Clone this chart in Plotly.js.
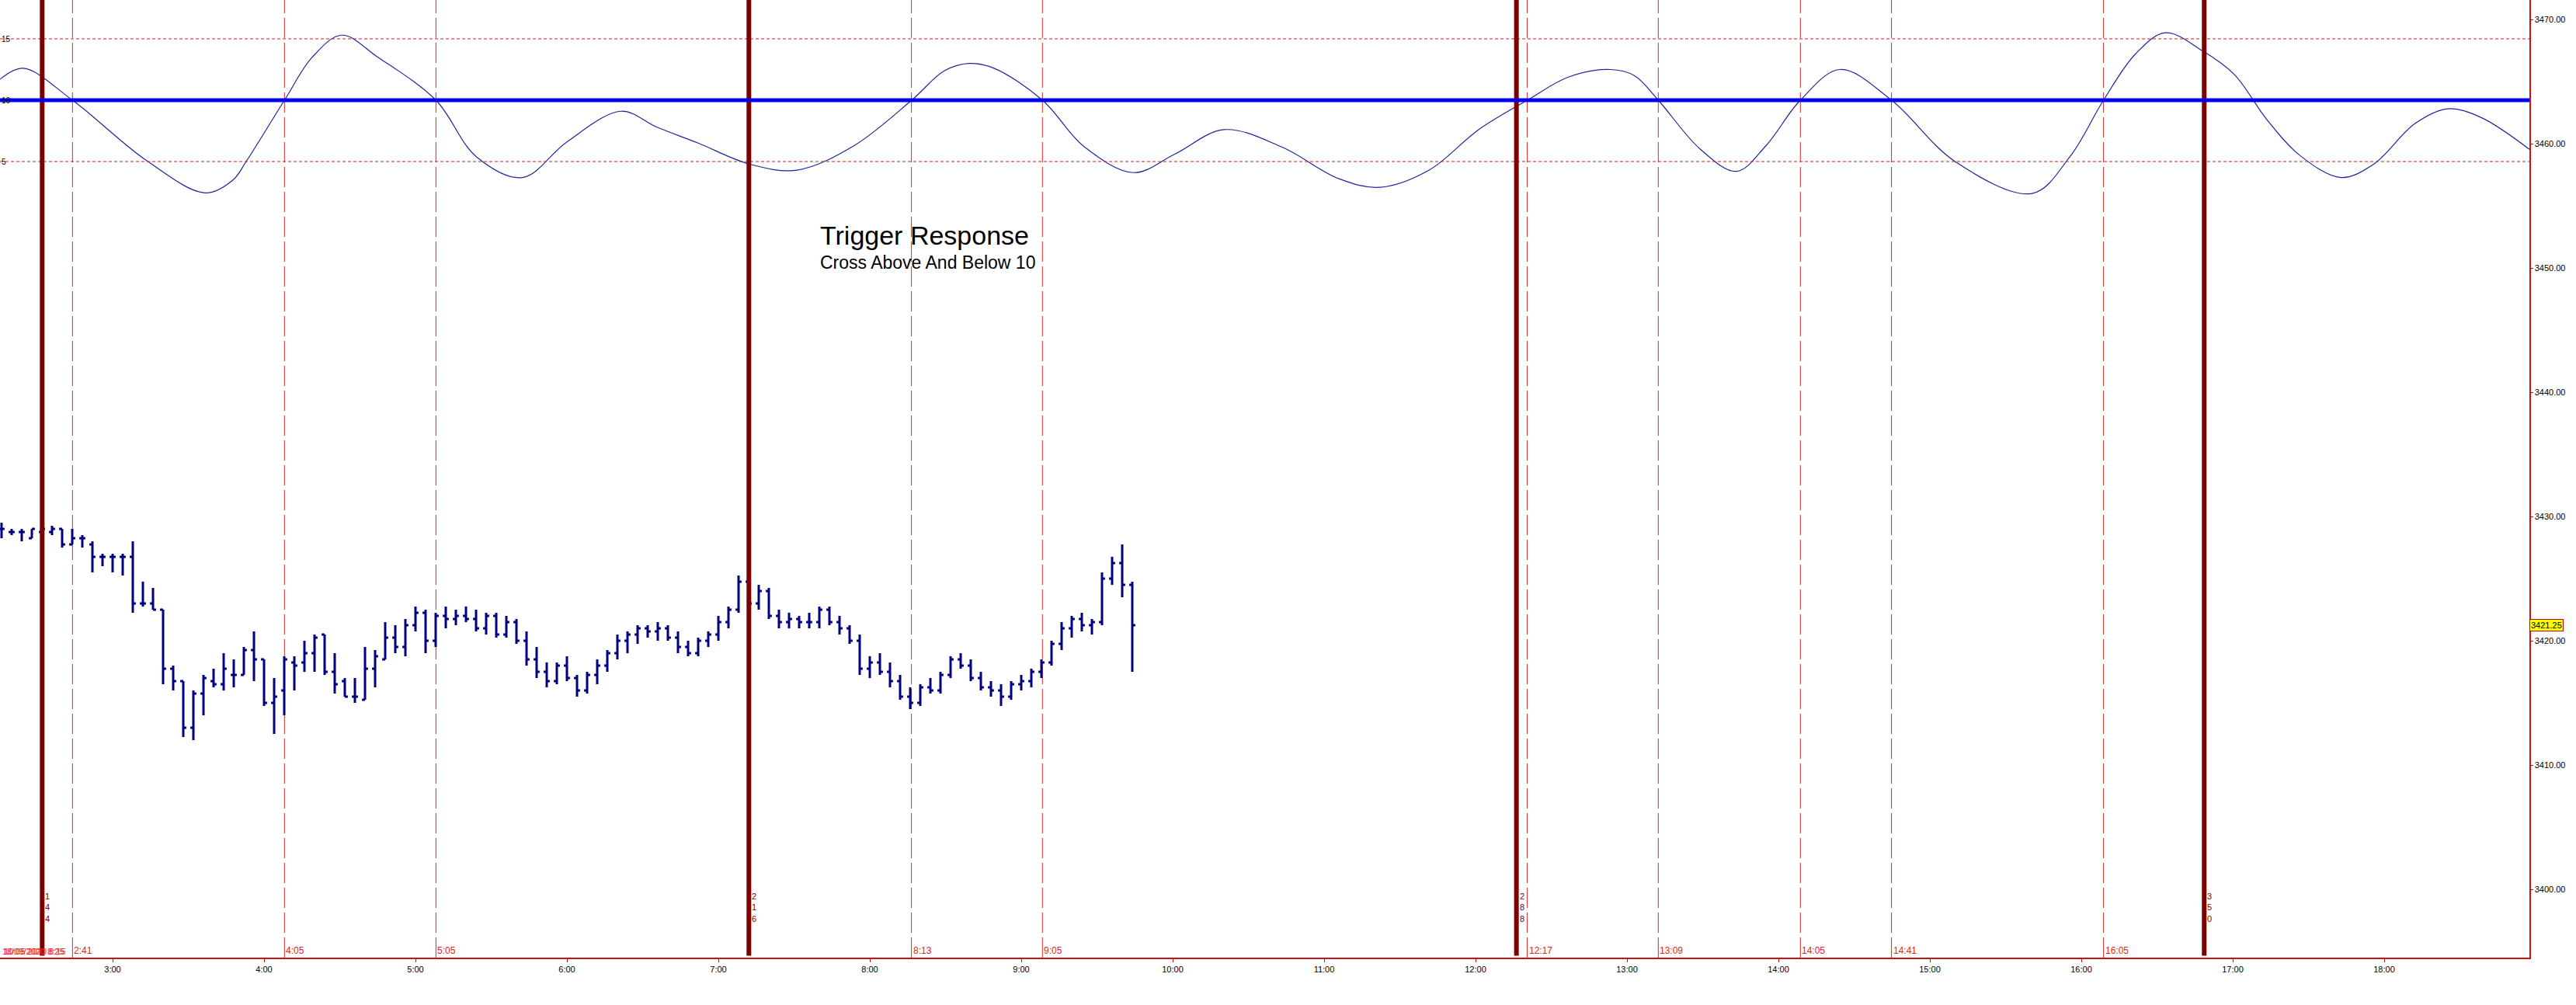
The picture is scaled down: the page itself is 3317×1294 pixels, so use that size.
<!DOCTYPE html>
<html>
<head>
<meta charset="utf-8">
<script src="https://cdn.plot.ly/plotly-3.0.1.min.js"></script>
<style>html,body{margin:0;padding:0;background:#fff;}#chart{width:3317px;height:1294px;}</style>
</head>
<body>
<div id="chart"></div>
<script>
// ---- data (times are minutes after midnight) ----
const barStart = 136;   // first bar 2:16
const barStep = 4;      // 4-minute bars
const barOpen = [3429.0,3428.75,3428.75,3428.25,3428.75,3428.75,3429.0,3427.75,3428.25,3427.75,
3426.75,3426.75,3426.75,3426.75,3423.0,3423.0,3422.5,3417.75,3416.75,3413.0,
3415.75,3416.75,3416.5,3417.25,3417.25,3419.25,3418.5,3415.0,3416.0,3418.25,
3418.25,3419.0,3420.5,3417.5,3416.75,3415.5,3415.25,3417.75,3418.5,3420.25,
3419.5,3421.25,3422.25,3420.0,3422.0,3421.75,3422.0,3421.75,3421.0,3422.0,
3420.5,3421.5,3420.0,3418.5,3417.5,3416.75,3418.0,3417.0,3416.0,3417.25,
3418.0,3419.0,3420.0,3420.5,3421.0,3420.75,3421.0,3420.25,3419.5,3419.0,
3420.0,3420.5,3421.5,3422.5,3424.75,3423.0,3424.0,3422.0,3421.5,3421.75,
3421.5,3421.5,3422.5,3421.5,3421.0,3420.0,3417.75,3418.25,3417.5,3416.75,
3415.5,3415.0,3416.25,3416.0,3417.25,3418.5,3418.0,3417.0,3416.25,3416.0,
3415.5,3416.5,3416.75,3417.5,3418.25,3419.75,3421.0,3421.75,3421.25,3421.5,
3425.0,3426.25,3424.5];
const barHigh = [3429.5,3429.0,3429.0,3429.0,3429.0,3429.25,3429.0,3429.0,3428.5,3428.0,
3427.0,3427.0,3427.0,3428.0,3424.75,3424.25,3422.5,3418.0,3416.75,3416.0,
3417.25,3417.75,3419.0,3418.5,3419.5,3420.75,3418.5,3417.0,3418.75,3418.75,
3420.0,3420.5,3420.5,3419.0,3417.0,3417.0,3419.5,3419.25,3421.5,3421.25,
3421.75,3422.75,3422.5,3422.25,3422.75,3422.5,3422.75,3422.5,3422.25,3422.25,
3422.0,3421.75,3420.75,3419.5,3418.25,3418.25,3418.75,3417.25,3417.5,3418.5,
3419.25,3420.5,3420.75,3421.25,3421.25,3421.5,3421.25,3420.75,3420.0,3420.25,
3420.75,3422.0,3422.75,3425.25,3425.0,3424.5,3424.25,3422.5,3422.25,3422.0,
3422.25,3422.75,3422.75,3422.0,3421.25,3420.5,3418.75,3419.0,3418.25,3417.25,
3416.25,3416.5,3417.0,3417.5,3418.75,3419.0,3418.5,3417.5,3416.75,3416.5,
3416.75,3417.25,3417.75,3418.5,3420.0,3421.5,3422.0,3422.25,3421.75,3425.5,
3426.75,3427.75,3424.75];
const barLow = [3428.25,3428.5,3428.0,3428.25,3428.0,3428.5,3427.5,3427.75,3427.5,3425.5,
3426.0,3425.5,3425.25,3422.25,3422.75,3422.5,3416.5,3416.0,3412.25,3412.0,
3414.0,3416.25,3416.0,3416.25,3417.25,3416.75,3414.75,3412.5,3414.0,3416.0,
3417.5,3417.5,3417.25,3415.75,3415.5,3415.0,3415.25,3416.25,3418.5,3419.0,
3418.75,3420.75,3419.0,3419.5,3421.0,3421.25,3421.5,3420.75,3420.5,3420.25,
3420.25,3419.75,3418.0,3417.0,3416.25,3416.5,3416.75,3415.5,3415.75,3416.5,
3417.5,3418.5,3419.0,3419.75,3420.25,3420.0,3420.0,3419.0,3418.75,3418.75,
3419.5,3420.0,3421.0,3422.25,3421.75,3422.5,3421.75,3421.0,3421.0,3421.0,
3421.0,3421.0,3421.25,3420.5,3419.75,3417.25,3417.0,3417.25,3416.25,3415.25,
3414.5,3414.75,3415.75,3415.75,3417.0,3417.75,3416.75,3416.0,3415.5,3414.75,
3415.25,3416.0,3416.25,3417.0,3418.0,3419.25,3420.25,3420.75,3420.5,3421.25,
3424.5,3423.5,3417.5];
const barClose = [3429.0,3428.75,3428.75,3429.0,3429.0,3429.0,3427.75,3428.25,3428.25,3426.75,
3426.75,3426.75,3426.75,3423.0,3423.0,3422.5,3417.75,3416.75,3413.0,3415.75,
3417.0,3416.5,3417.75,3417.25,3419.25,3418.5,3415.0,3415.5,3418.5,3418.0,
3419.0,3420.25,3417.5,3416.5,3415.5,3415.5,3417.75,3418.75,3420.25,3419.5,
3421.25,3422.25,3420.0,3422.0,3421.75,3422.0,3421.75,3421.0,3422.0,3420.5,
3421.5,3420.0,3418.5,3417.5,3416.75,3418.0,3417.0,3416.0,3417.25,3418.0,
3419.0,3420.0,3420.5,3421.0,3420.75,3421.0,3420.25,3419.5,3419.0,3420.0,
3420.5,3421.5,3422.5,3424.75,3423.0,3424.0,3422.0,3421.5,3421.75,3421.5,
3421.5,3422.5,3421.5,3421.0,3420.0,3417.75,3418.25,3417.5,3416.75,3415.5,
3415.0,3416.25,3416.0,3417.25,3418.5,3418.0,3417.0,3416.25,3416.0,3415.5,
3416.5,3416.75,3417.5,3418.25,3419.75,3421.0,3421.75,3421.25,3421.5,3425.0,
3426.25,3424.5,3421.25];
const lastPrice = 3421.25;

const oscTimes = [135.4,144.6,164.1,194.0,216.7,227.7,232.9,248.1,259.1,270.8,285.1,308.1,324.1,342.4,360.0,381.4,395.7,412.0,432.2,451.1,473.8,496.6,509.6,519.4,529.2,548.4,565.0,584.5,600.8,620.3,643.1,665.9,682.1,701.6,721.2,740.5,757.0,773.3,783.0,792.4,809.1,823.4,835.1,848.7,864.4,884.8,910.0,940.5,955.5,968.8,981.6,993.3,1008.2,1020.6,1033.6,1046.6,1062.9,1075.9,1092.2,1105.2,1118.3,1137.5];
const oscValues = [11.7,12.6,10.0,5.0,2.45,3.5,5.0,10.0,13.5,15.3,13.5,10.0,5.4,3.7,6.6,9.1,7.8,6.5,4.8,4.3,6.3,10.0,12.4,13.0,12.6,10.0,6.2,4.1,5.6,7.6,6.2,3.6,2.9,4.3,7.6,10.0,11.9,12.5,12.0,10.0,6.0,4.2,6.3,10.0,12.5,10.0,5.0,2.4,5.4,10.0,13.8,15.5,14.0,12.1,8.4,5.5,3.7,4.8,8.1,9.3,8.6,6.0];
const oscLevels = [15, 10, 5];
const oscLevelLabels = ['15', '10', '5'];

const triggerTimes = [164.1, 248.1, 308.1, 496.5, 548.4, 740.5, 792.4, 848.7, 884.8, 968.8];
const triggerLabels = ['2:41','4:05','5:05','8:13','9:05','12:17','13:09','14:05','14:41','16:05'];
const cycleTimes = [152.1, 432.1, 736.2, 1008.7];
const cycleLabels = ['144', '216', '288', '350'];

const timeTicks = [180,240,300,360,420,480,540,600,660,720,780,840,900,960,1020,1080];
const timeTickLabels = ['3:00','4:00','5:00','6:00','7:00','8:00','9:00','10:00','11:00','12:00','13:00','14:00','15:00','16:00','17:00','18:00'];
const priceTicks = [3400,3410,3420,3430,3440,3450,3460,3470];
const priceTickLabels = priceTicks.map(v => v.toFixed(2));

const titleText = 'Trigger Response';
const subtitleText = 'Cross Above And Below 10';

// ---- build ----
const barTimes = barOpen.map((_, i) => barStart + i * barStep);
const FONT = 'Liberation Sans, Arial, sans-serif';
const RED = '#cc1111';

const traces = [
  {
    type: 'ohlc', x: barTimes, open: barOpen, high: barHigh, low: barLow, close: barClose,
    increasing: {line: {color: '#000080', width: 3}},
    decreasing: {line: {color: '#000080', width: 3}},
    tickwidth: 0.3, hoverinfo: 'skip', yaxis: 'y', xaxis: 'x'
  },
  {
    type: 'scatter', mode: 'lines', x: oscTimes, y: oscValues, yaxis: 'y2',
    line: {color: '#22229a', width: 1.2, shape: 'spline', smoothing: 1}, hoverinfo: 'skip'
  }
];

const shapes = [];
triggerTimes.forEach(t => shapes.push({type: 'line', xref: 'x', yref: 'paper', x0: t, x1: t, y0: 0, y1: 1,
  line: {color: '#cc2a2a', width: 1, dash: '26px,6px'}, layer: 'below'}));
shapes.push({type: 'line', xref: 'paper', yref: 'y2', x0: 0, x1: 1, y0: oscLevels[0], y1: oscLevels[0], line: {color: '#c82020', width: 1, dash: '4px,3px'}});
shapes.push({type: 'line', xref: 'paper', yref: 'y2', x0: 0, x1: 1, y0: oscLevels[2], y1: oscLevels[2], line: {color: '#c82020', width: 1, dash: '4px,3px'}});
cycleTimes.forEach(t => shapes.push({type: 'line', xref: 'x', yref: 'paper', x0: t, x1: t, y0: 0.002, y1: 1,
  line: {color: '#7b0000', width: 6}}));
shapes.push({type: 'line', xref: 'paper', yref: 'y2', x0: 0, x1: 1, y0: oscLevels[1], y1: oscLevels[1], line: {color: '#0000ee', width: 5}});

const annotations = [];
triggerTimes.forEach((t, i) => annotations.push({xref: 'x', yref: 'paper', x: t, y: 0, xanchor: 'left', yanchor: 'bottom',
  xshift: 0, yshift: 0, text: triggerLabels[i], showarrow: false, font: {family: FONT, size: 12, color: '#e02424'}}));
cycleTimes.forEach((t, i) => annotations.push({xref: 'x', yref: 'paper', x: t, y: 0.052, xanchor: 'left', yanchor: 'middle',
  xshift: 2, text: cycleLabels[i].split('').join('<br>'), showarrow: false, font: {family: FONT, size: 11, color: '#7b0000'}}));
oscLevels.forEach((v, i) => annotations.push({xref: 'paper', yref: 'y2', x: 0, y: v, xanchor: 'left', yanchor: 'middle',
  xshift: 0, text: oscLevelLabels[i], showarrow: false, font: {family: FONT, size: 10, color: '#000'}}));
annotations.push({xref: 'paper', yref: 'y', x: 1, y: lastPrice, xanchor: 'left', yanchor: 'middle', xshift: 0,
  text: lastPrice.toFixed(2), showarrow: false, bgcolor: '#ffff00', bordercolor: '#cc0000', borderwidth: 1, borderpad: 1,
  font: {family: FONT, size: 11, color: '#000'}});
annotations.push({xref: 'paper', yref: 'paper', x: 0.3235, y: 0.7545, xanchor: 'left', yanchor: 'middle',
  text: titleText, showarrow: false, font: {family: FONT, size: 34, color: '#000'}});
annotations.push({xref: 'paper', yref: 'paper', x: 0.3237, y: 0.7262, xanchor: 'left', yanchor: 'middle',
  text: subtitleText, showarrow: false, font: {family: FONT, size: 23, color: '#000'}});
annotations.push({xref: 'paper', yref: 'paper', x: 0, y: 0, xanchor: 'left', yanchor: 'bottom', xshift: 1,
  text: '18/09/2020 8:25', showarrow: false, font: {family: FONT, size: 11, color: '#ff1a1a'}});
annotations.push({xref: 'paper', yref: 'paper', x: 0, y: 0, xanchor: 'left', yanchor: 'bottom', xshift: 3,
  text: '10:05 2020 8:15', showarrow: false, font: {family: FONT, size: 11, color: '#ff1a1a'}});

const layout = {
  width: 3317, height: 1294,
  margin: {l: 0, r: 60, t: 0, b: 61, pad: 0},
  paper_bgcolor: '#ffffff', plot_bgcolor: '#ffffff',
  showlegend: false,
  font: {family: FONT, size: 11, color: '#000'},
  xaxis: {
    range: [135.385, 1137.54], tickvals: timeTicks, ticktext: timeTickLabels,
    showgrid: false, zeroline: false, showline: true, linecolor: RED, linewidth: 1.5,
    ticks: 'outside', ticklen: 4, tickcolor: RED, tickfont: {family: FONT, size: 11, color: '#000'},
    rangeslider: {visible: false}, fixedrange: true
  },
  yaxis: {
    side: 'right', range: [3394.5, 3471.5625], tickvals: priceTicks, ticktext: priceTickLabels,
    showgrid: false, zeroline: false, showline: true, linecolor: RED, linewidth: 1.5,
    ticks: 'outside', ticklen: 3, tickcolor: RED, tickfont: {family: FONT, size: 11, color: '#000'}, fixedrange: true
  },
  yaxis2: {
    overlaying: 'y', side: 'left', range: [-59.87, 18.165], visible: false, showgrid: false, zeroline: false, fixedrange: true
  },
  shapes: shapes,
  annotations: annotations
};

Plotly.newPlot('chart', traces, layout, {displayModeBar: false, staticPlot: true});
</script>
</body>
</html>
